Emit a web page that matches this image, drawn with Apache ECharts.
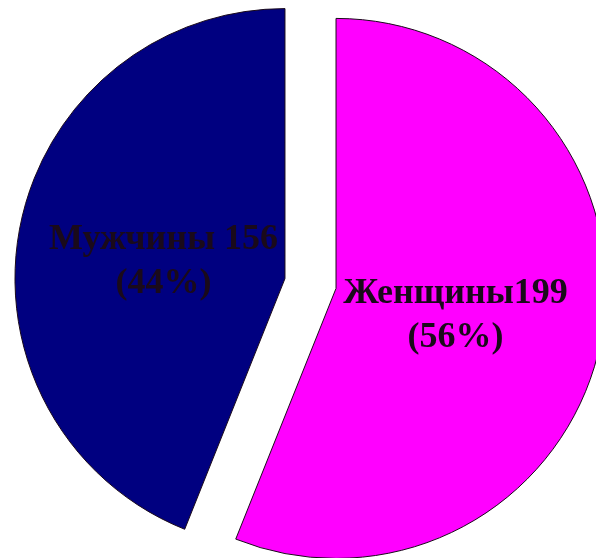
<!DOCTYPE html>
<html>
<head>
<meta charset="utf-8">
<script src="https://cdn.jsdelivr.net/npm/echarts@6/dist/echarts.min.js"></script>
<style>
html,body{margin:0;padding:0;background:#fff;}
#chart{width:596px;height:558px;}
</style>
</head>
<body>
<div id="chart"></div>
<script>
const categories = ["Женщины", "Мужчины"];
const values = [199, 156];
const nameValueSeparators = ["", " "];
const colors = ["#FF00FF", "#000080"];

const chart = echarts.init(document.getElementById('chart'), null, {renderer: 'canvas'});
const labelShifts = [[-16, 1], [14, 9]];
const data = categories.map((c, i) => ({
  name: c,
  value: values[i],
  selected: true,
  itemStyle: {color: colors[i]}
}));

chart.setOption({
  animation: false,
  backgroundColor: '#ffffff',
  series: [{
    type: 'pie',
    center: [310.5, 283.5],
    radius: [0, 270],
    startAngle: 90,
    clockwise: true,
    selectedMode: 'multiple',
    selectedOffset: 26,
    percentPrecision: 0,
    emphasis: {disabled: true},
    select: {itemStyle: {borderColor: '#1a0a1a', borderWidth: 1}},
    itemStyle: {borderColor: '#1a0a1a', borderWidth: 1},
    label: {
      show: true,
      position: 'inside',
      color: '#1a0a1a',
      fontFamily: 'Liberation Serif',
      fontWeight: 'bold',
      fontSize: 36,
      lineHeight: 44,
      align: 'center',
      formatter: function (p) {
        return p.name + nameValueSeparators[p.dataIndex] + p.value + '\n(' + p.percent + '%)';
      }
    },
    labelLayout: function (params) {
      const s = labelShifts[params.dataIndex];
      return {dx: s[0], dy: s[1], hideOverlap: false};
    },
    labelLine: {show: false},
    data: data
  }]
});
</script>
</body>
</html>
